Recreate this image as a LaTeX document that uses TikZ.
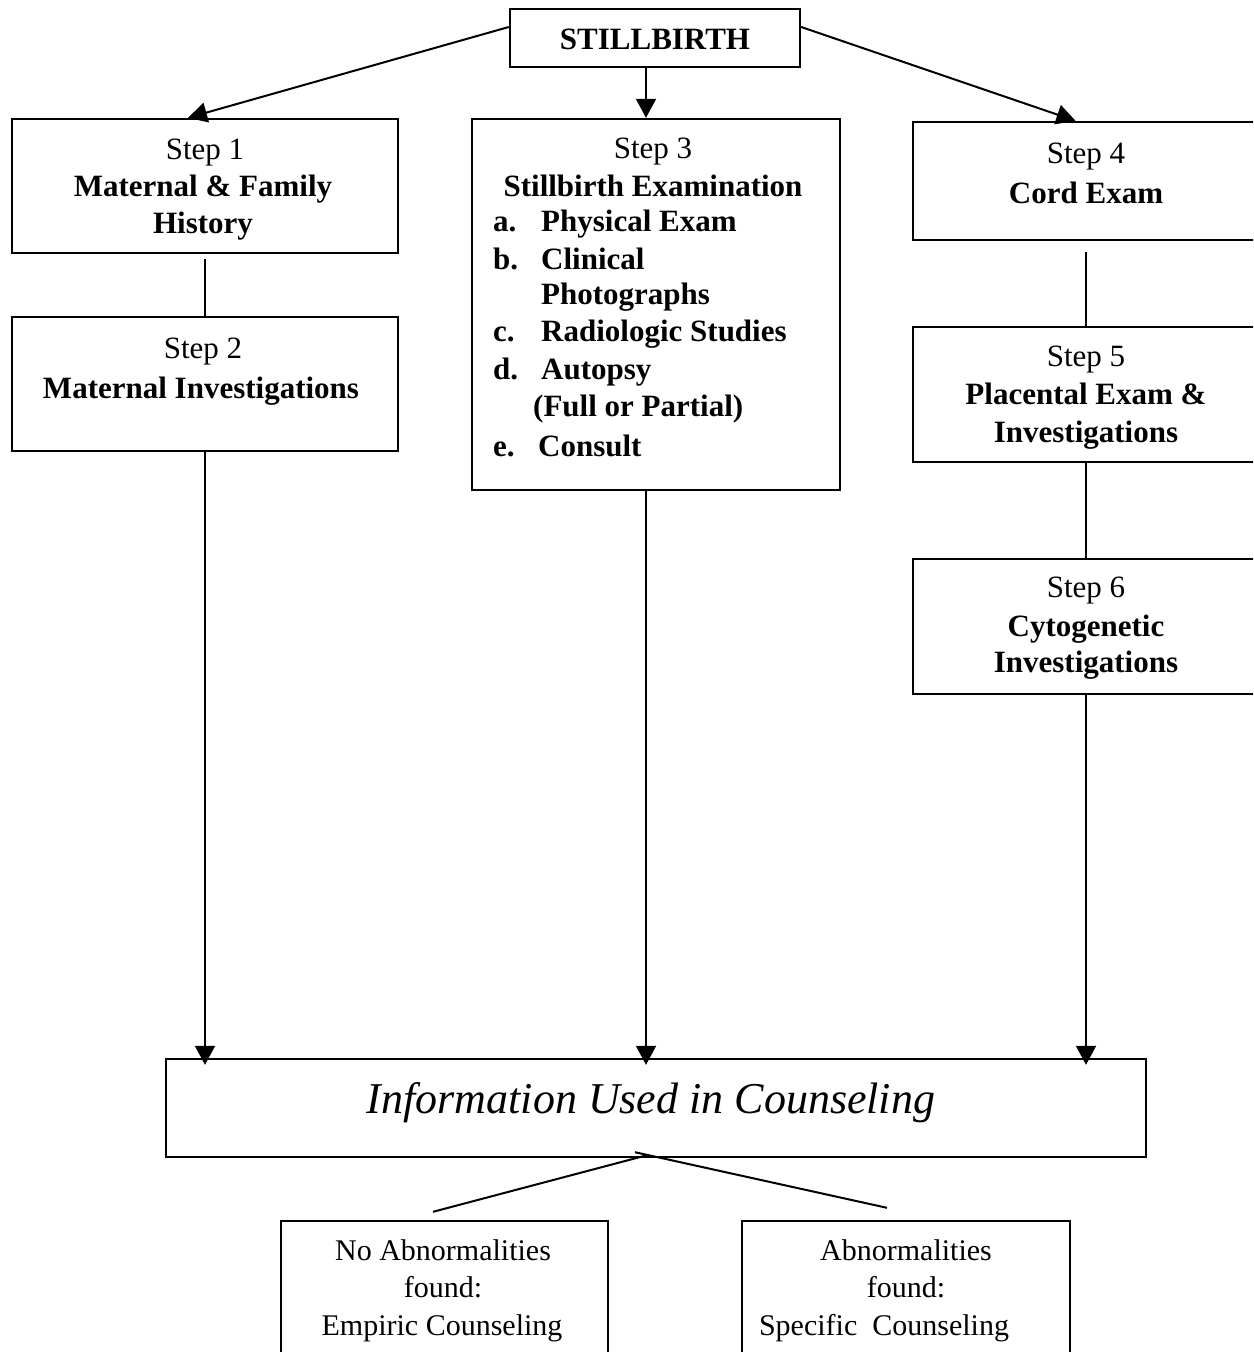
\documentclass[tikz,border=0pt]{standalone}
\usepackage{fontspec}
\setmainfont{Liberation Serif}
\usetikzlibrary{arrows.meta,calc}
\tikzset{
  box/.style={draw, line width=2.4pt, rectangle, inner sep=0pt},
  conn/.style={line width=2pt},
  arr/.style={line width=2pt, -{Triangle[length=19pt,width=20pt]}},
  tnorm/.style={font=\fontsize{31}{37}\selectfont, anchor=base, inner sep=0pt},
  tbold/.style={font=\fontsize{31}{37}\selectfont\bfseries, anchor=base, inner sep=0pt},
  tlist/.style={font=\fontsize{31}{37}\selectfont\bfseries, anchor=base west, inner sep=0pt},
  tsmall/.style={font=\fontsize{30}{37}\selectfont, anchor=base, inner sep=0pt},
  tinfo/.style={font=\fontsize{44}{50}\selectfont\itshape, anchor=base, inner sep=0pt}
}
\begin{document}
\begin{tikzpicture}[x=1pt,y=-1pt]
\useasboundingbox (0,0) rectangle (1253,1352);
\clip (0,0) rectangle (1253,1352);
\fill[white] (0,0) rectangle (1253,1352);

% boxes
\node[box, minimum width=290pt, minimum height=58pt] (s) at (655,38) {};
\node[box, minimum width=386pt, minimum height=134pt] (st1) at (205,186) {};
\node[box, minimum width=386pt, minimum height=134pt] (st2) at (205,384) {};
\node[box, minimum width=368pt, minimum height=371pt] (st3) at (656,304.5) {};
\node[box, minimum width=349pt, minimum height=118pt] (st4) at (1087.5,181) {};
\node[box, minimum width=349pt, minimum height=135pt] (st5) at (1087.5,394.5) {};
\node[box, minimum width=349pt, minimum height=135pt] (st6) at (1087.5,626.5) {};
\node[box, minimum width=980pt, minimum height=98pt] (info) at (656,1108) {};
\node[box, minimum width=327pt, minimum height=179pt] (nab) at (444.5,1310.5) {};
\node[box, minimum width=328pt, minimum height=179pt] (ab) at (906,1310.5) {};

% texts
\node[tbold] (ts) at (655,49) {STILLBIRTH};

\node[tnorm] (t1a) at (205,159) {Step 1};
\node[tbold] (t1b) at (203,196) {Maternal \& Family};
\node[tbold] (t1c) at (203,233) {History};

\node[tnorm] (t2a) at (203,358) {Step 2};
\node[tbold] (t2b) at (201,398) {Maternal Investigations};

\node[tnorm] (t3a) at (653,158) {Step 3};
\node[tbold] (t3b) at (653,196) {Stillbirth Examination};
\node[tlist] (la) at (493,231) {a.};
\node[tlist] (ia) at (541,231) {Physical Exam};
\node[tlist] (lb) at (493,269) {b.};
\node[tlist] (ib) at (541,269) {Clinical};
\node[tlist] (ib2) at (541,304) {Photographs};
\node[tlist] (lc) at (493,341) {c.};
\node[tlist] (ic) at (541,341) {Radiologic Studies};
\node[tlist] (ld) at (493,379) {d.};
\node[tlist] (id) at (541,379) {Autopsy};
\node[tlist] (id2) at (533,416) {(Full or Partial)};
\node[tlist] (le) at (493,456) {e.};
\node[tlist] (ie) at (538,456) {Consult};

\node[tnorm] (t4a) at (1086,163) {Step 4};
\node[tbold] (t4b) at (1086,203) {Cord Exam};

\node[tnorm] (t5a) at (1086,366) {Step 5};
\node[tbold] (t5b) at (1086,404) {Placental Exam \&};
\node[tbold] (t5c) at (1086,442) {Investigations};

\node[tnorm] (t6a) at (1086,597) {Step 6};
\node[tbold] (t6b) at (1086,636) {Cytogenetic};
\node[tbold] (t6c) at (1086,672) {Investigations};

\node[tinfo] (ti) at (651,1113) {Information Used in Counseling};

\node[tsmall] (na1) at (443,1260) {No Abnormalities};
\node[tsmall] (na2) at (443,1297) {found:};
\node[tsmall] (na3) at (442,1335) {Empiric Counseling};
\node[tsmall] (ab1) at (906,1260) {Abnormalities};
\node[tsmall] (ab2) at (906,1297) {found:};
\node[tsmall] (ab3) at (884,1335) {Specific\ \ Counseling};

% connectors
\draw[arr] ([yshift=11pt]s.west) -- ([xshift=-17pt]st1.north);
\draw[arr] ([yshift=11pt]s.east) -- ([xshift=-12pt]st4.north);
\draw[arr] ([xshift=-9pt]s.south) -- ([xshift=-10pt]st3.north);

\draw[conn, shorten <=5pt] (st1.south) -- (st2.north);
\draw[conn, shorten <=11pt] ([xshift=-1.5pt]st4.south) -- ([xshift=-1.5pt]st5.north);
\draw[conn] ([xshift=-1.5pt]st5.south) -- ([xshift=-1.5pt]st6.north);

\draw[arr, shorten >=-7pt] (st2.south) -- (st2.south |- info.north);
\draw[arr, shorten >=-7pt] ([xshift=-10pt]st3.south) -- ([xshift=-10pt]st3.south |- info.north);
\draw[arr, shorten >=-7pt] ([xshift=-1.5pt]st6.south) -- ([xshift=-1.5pt]st6.south |- info.north);

\draw[conn] ([xshift=-9pt,yshift=3pt]info.south) -- ([xshift=-11.5pt,yshift=8pt]nab.north);
\draw[conn] ([xshift=-21pt,yshift=6pt]info.south) -- ([xshift=-19pt,yshift=12pt]ab.north);
\end{tikzpicture}
\end{document}
